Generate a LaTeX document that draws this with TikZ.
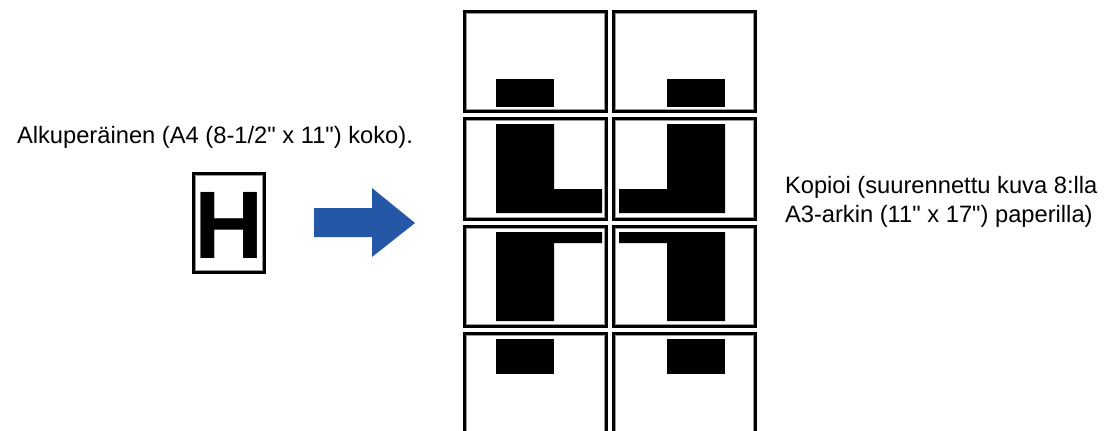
\documentclass[tikz,border=0pt]{standalone}
\usepackage{fontspec}
\setmainfont[Ligatures=TeXOff]{Liberation Sans}
\definecolor{arrowblue}{RGB}{36,88,166}
\tikzset{
  cellframe/.style={draw=black,line width=3bp},
  cellinner/.style={draw=black!40,line width=0.7bp},
  ink/.style={fill=black,draw=none},
  lbl/.style={inner sep=0pt,outer sep=0pt,anchor=base west,font=\fontsize{23.8}{29}\selectfont}
}
\begin{document}
\begin{tikzpicture}[x=1bp,y=-1bp]
\clip (0,0) rectangle (1104,430);
\fill[white] (0,0) rectangle (1104,430);
% labels
\node[lbl] (orig) at (17,143) {Alkuperäinen (A4 (8-1/2" x 11") koko).};
\node[lbl] (copy1) at (785,193) {Kopioi (suurennettu kuva 8:lla};
\node[lbl] (copy2) at (785,222) {A3-arkin (11" x 17") paperilla)};
% original sheet with H
\draw[cellframe] (193.5,173.5) rectangle (264.5,272.5);
\draw[cellinner] (195.6,175.6) rectangle (262.4,270.4);
\node[inner sep=0pt,outer sep=0pt,anchor=base,font=\fontsize{96.4}{96}\selectfont\bfseries] (hchar) at (229.5,258) {H};
% arrow
\fill[arrowblue] (314,208) -- (372,208) -- (372,188) -- (415,223) -- (372,257) -- (372,237) -- (314,237) -- cycle;
% grid cells
\foreach \xa/\xb in {463/608,612/757}{
  \foreach \ya/\yb in {10/113,117/221,225/328,332/440}{
    \draw[cellframe] (\xa+1.5,\ya+1.5) rectangle (\xb-1.5,\yb-1.5);
    \draw[cellinner] (\xa+3.6,\ya+3.6) rectangle (\xb-3.6,\yb-3.6);
  }
}
% row 1
\fill[ink] (496,79) rectangle (554,107);
\fill[ink] (667,79) rectangle (725,107);
% row 2
\fill[ink] (496,124) -- (554,124) -- (554,189) -- (602,189) -- (602,213) -- (496,213) -- cycle;
\fill[ink] (667,124) -- (725,124) -- (725,213) -- (619,213) -- (619,189) -- (667,189) -- cycle;
% row 3
\fill[ink] (496,232) -- (602,232) -- (602,243) -- (554,243) -- (554,321) -- (496,321) -- cycle;
\fill[ink] (619,232) -- (725,232) -- (725,321) -- (667,321) -- (667,243) -- (619,243) -- cycle;
% row 4
\fill[ink] (496,339) rectangle (554,374);
\fill[ink] (667,339) rectangle (725,374);
\end{tikzpicture}
\end{document}
